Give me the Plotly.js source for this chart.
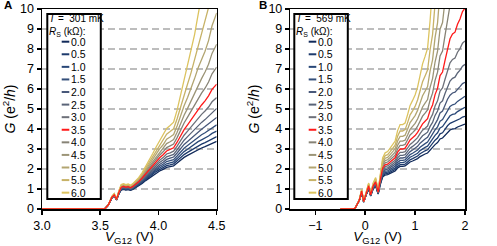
<!DOCTYPE html>
<html><head><meta charset="utf-8">
<script src="https://cdn.plot.ly/plotly-3.0.1.min.js"></script>
<style>html,body{margin:0;padding:0;background:#fff;} #chart{width:497px;height:246px;}</style>
</head><body><div id="chart"></div>
<script>
// ---------------- data ----------------
const rsValues = [0, 0.5, 1, 1.5, 2, 2.5, 3, 3.5, 4, 4.5, 5, 5.5, 6];
const rsLabels = ["0.0","0.5","1.0","1.5","2.0","2.5","3.0","3.5","4.0","4.5","5.0","5.5","6.0"];
const tempLabels = ["301 mK", "569 mK"];
const panelLabels = ["A", "B"];
const xTicksA = [3.0, 3.5, 4.0, 4.5];
const xTicksB = [-1, 0, 1, 2];

// Panel A: gate voltage (V)
const vA = [3.00,3.50,3.54,3.57,3.60,3.62,3.64,3.66,3.68,3.70,3.72,3.74,3.76,3.78,3.80,3.83,3.86,3.89,3.92,3.95,3.98,4.01,4.04,4.07,4.10,4.13,4.16,4.19,4.22,4.25,4.28,4.31,4.34,4.37,4.40,4.43,4.46,4.50];
const gA00 = [0,0,0.02,0.20,0.55,0.65,0.45,0.75,0.95,0.98,0.95,0.97,0.93,0.98,1.05,1.15,1.28,1.42,1.55,1.68,1.80,1.90,1.98,2.08,2.12,2.16,2.30,2.45,2.58,2.68,2.78,2.88,2.98,3.05,3.12,3.20,3.30,3.38];
const gA05 = [0,0,0.02,0.20,0.56,0.66,0.45,0.76,0.97,1.00,0.97,0.99,0.95,1.00,1.07,1.18,1.31,1.46,1.60,1.74,1.87,1.97,2.06,2.17,2.21,2.26,2.41,2.57,2.72,2.83,2.94,3.05,3.16,3.24,3.32,3.41,3.53,3.62];
const gA10 = [0,0,0.02,0.20,0.56,0.67,0.46,0.77,0.99,1.02,0.99,1.01,0.97,1.02,1.10,1.20,1.35,1.50,1.65,1.80,1.94,2.05,2.15,2.26,2.31,2.36,2.52,2.71,2.87,2.99,3.12,3.24,3.37,3.46,3.55,3.65,3.78,3.89];
const gA15 = [0,0,0.02,0.20,0.57,0.68,0.46,0.78,1.01,1.04,1.01,1.03,0.98,1.04,1.12,1.23,1.38,1.55,1.70,1.86,2.01,2.14,2.24,2.37,2.42,2.47,2.65,2.86,3.04,3.18,3.32,3.46,3.60,3.71,3.81,3.93,4.08,4.21];
const gA20 = [0,0,0.02,0.20,0.57,0.69,0.47,0.80,1.03,1.06,1.03,1.05,1.00,1.06,1.14,1.26,1.42,1.60,1.76,1.93,2.09,2.23,2.34,2.48,2.54,2.60,2.80,3.03,3.23,3.38,3.54,3.71,3.88,3.99,4.12,4.26,4.44,4.58];
const gA25 = [0,0,0.02,0.20,0.58,0.69,0.47,0.81,1.05,1.08,1.05,1.07,1.02,1.08,1.17,1.30,1.46,1.65,1.82,2.01,2.18,2.33,2.45,2.61,2.67,2.73,2.96,3.21,3.44,3.62,3.81,4.00,4.19,4.33,4.47,4.64,4.85,5.03];
const gA30 = [0,0,0.02,0.20,0.59,0.70,0.48,0.82,1.07,1.11,1.07,1.09,1.04,1.11,1.20,1.33,1.50,1.70,1.89,2.09,2.28,2.44,2.57,2.75,2.81,2.89,3.14,3.43,3.69,3.89,4.11,4.33,4.56,4.73,4.90,5.10,5.36,5.57];
const gA35 = [0,0,0.02,0.21,0.59,0.71,0.48,0.84,1.09,1.13,1.09,1.12,1.06,1.13,1.22,1.36,1.55,1.76,1.96,2.18,2.38,2.56,2.71,2.90,2.98,3.06,3.34,3.67,3.97,4.21,4.46,4.73,5.00,5.20,5.41,5.66,5.98,6.24];
const gA40 = [0,0,0.02,0.21,0.60,0.72,0.48,0.85,1.11,1.16,1.11,1.14,1.09,1.16,1.25,1.40,1.60,1.82,2.04,2.27,2.50,2.69,2.86,3.07,3.16,3.25,3.57,3.95,4.30,4.59,4.89,5.20,5.54,5.79,6.04,6.35,6.76,7.10];
const gA45 = [0,0,0.02,0.21,0.61,0.73,0.49,0.86,1.14,1.18,1.14,1.17,1.11,1.18,1.29,1.44,1.65,1.89,2.12,2.38,2.63,2.84,3.03,3.27,3.36,3.47,3.84,4.28,4.69,5.03,5.40,5.79,6.21,6.52,6.85,7.24,7.78,8.24];
const gA50 = [0,0,0.02,0.21,0.62,0.74,0.49,0.88,1.16,1.21,1.16,1.19,1.14,1.21,1.32,1.48,1.70,1.96,2.22,2.49,2.77,3.01,3.21,3.49,3.60,3.72,4.15,4.67,5.16,5.58,6.03,6.52,7.05,7.46,7.89,8.42,9.16,9.80];
const gA55 = [0,0,0.02,0.21,0.62,0.76,0.50,0.89,1.19,1.24,1.19,1.22,1.16,1.24,1.35,1.52,1.76,2.04,2.31,2.62,2.92,3.19,3.43,3.74,3.87,4.01,4.51,5.13,5.73,6.25,6.82,7.46,8.17,8.72,9.32,10.07,11.13,12.10];
const gA60 = [0,0,0.02,0.21,0.63,0.77,0.50,0.91,1.22,1.27,1.22,1.25,1.19,1.27,1.39,1.57,1.82,2.12,2.42,2.76,3.10,3.40,3.67,4.03,4.18,4.34,4.94,5.70,6.45,7.11,7.86,8.72,9.71,10.49,11.37,12.51,14.19,15.80];

// Panel B: gate voltage (V)
const vB = [-0.50,-0.25,-0.20,-0.12,-0.07,-0.03,0.02,0.07,0.11,0.16,0.21,0.26,0.30,0.35,0.40,0.45,0.50,0.55,0.60,0.65,0.70,0.75,0.80,0.85,0.90,0.95,1.00,1.05,1.10,1.15,1.20,1.25,1.30,1.35,1.40,1.45,1.50,1.55,1.60,1.65,1.70,1.75,1.80,1.85,1.90,1.95,2.00];
const gB00 = [0,0,0.05,0.40,0.80,0.35,0.70,1.00,0.65,1.00,1.15,0.75,1.20,1.60,1.70,1.72,1.78,1.85,1.90,2.05,2.13,2.13,2.15,2.25,2.35,2.40,2.45,2.52,2.62,2.70,2.75,2.80,2.95,3.05,3.22,3.32,3.50,3.55,3.70,3.85,3.95,4.00,4.02,4.10,4.15,4.22,4.25];
const gB05 = [0,0,0.05,0.40,0.81,0.35,0.71,1.02,0.66,1.02,1.18,0.76,1.23,1.65,1.76,1.78,1.84,1.92,1.97,2.13,2.22,2.22,2.24,2.35,2.46,2.52,2.57,2.65,2.76,2.85,2.91,2.96,3.13,3.24,3.44,3.55,3.76,3.81,3.99,4.16,4.28,4.34,4.36,4.45,4.51,4.60,4.63];
const gB10 = [0,0,0.05,0.41,0.83,0.35,0.72,1.04,0.67,1.04,1.20,0.77,1.26,1.71,1.82,1.84,1.91,1.99,2.05,2.23,2.32,2.32,2.35,2.47,2.59,2.65,2.71,2.79,2.92,3.02,3.08,3.14,3.33,3.46,3.68,3.81,4.05,4.12,4.32,4.53,4.66,4.73,4.76,4.87,4.95,5.05,5.09];
const gB15 = [0,0,0.05,0.41,0.84,0.36,0.73,1.06,0.68,1.06,1.23,0.78,1.29,1.76,1.89,1.91,1.99,2.07,2.14,2.33,2.43,2.43,2.46,2.59,2.72,2.79,2.86,2.95,3.09,3.20,3.27,3.35,3.56,3.71,3.96,4.11,4.39,4.47,4.71,4.96,5.13,5.21,5.25,5.38,5.47,5.59,5.64];
const gB20 = [0,0,0.05,0.41,0.85,0.36,0.74,1.08,0.69,1.08,1.26,0.80,1.32,1.83,1.96,1.99,2.07,2.16,2.23,2.44,2.55,2.55,2.58,2.73,2.87,2.95,3.03,3.13,3.29,3.42,3.50,3.58,3.82,3.99,4.29,4.47,4.80,4.90,5.19,5.49,5.69,5.80,5.84,6.01,6.12,6.27,6.34];
const gB25 = [0,0,0.05,0.42,0.87,0.36,0.75,1.11,0.69,1.11,1.30,0.81,1.36,1.89,2.04,2.06,2.15,2.25,2.33,2.56,2.68,2.68,2.72,2.88,3.04,3.13,3.21,3.33,3.51,3.66,3.75,3.84,4.13,4.33,4.68,4.90,5.30,5.41,5.77,6.14,6.40,6.53,6.59,6.80,6.94,7.14,7.23];
const gB30 = [0,0,0.05,0.42,0.88,0.36,0.76,1.13,0.70,1.13,1.33,0.82,1.40,1.97,2.12,2.15,2.25,2.36,2.44,2.69,2.83,2.83,2.87,3.05,3.23,3.33,3.43,3.57,3.77,3.94,4.04,4.15,4.49,4.73,5.15,5.41,5.90,6.05,6.49,6.97,7.31,7.48,7.55,7.84,8.02,8.29,8.40];
const gB35 = [0,0,0.05,0.42,0.90,0.37,0.77,1.16,0.71,1.16,1.36,0.84,1.43,2.04,2.21,2.24,2.35,2.47,2.56,2.84,3.00,3.00,3.04,3.24,3.45,3.56,3.67,3.83,4.07,4.26,4.39,4.52,4.92,5.20,5.72,6.04,6.67,6.85,7.43,8.06,8.51,8.75,8.84,9.24,9.50,9.87,10.04];
const gB40 = [0,0,0.05,0.43,0.91,0.37,0.78,1.18,0.72,1.18,1.40,0.85,1.47,2.13,2.31,2.35,2.46,2.59,2.69,3.00,3.18,3.18,3.23,3.46,3.70,3.82,3.95,4.14,4.41,4.64,4.79,4.95,5.44,5.79,6.43,6.84,7.65,7.90,8.68,9.55,10.19,10.53,10.67,11.25,11.64,12.2,12.46];
const gB45 = [0,0,0.05,0.43,0.93,0.37,0.80,1.21,0.73,1.21,1.44,0.86,1.52,2.22,2.42,2.46,2.58,2.73,2.84,3.19,3.39,3.39,3.44,3.70,3.98,4.13,4.28,4.50,4.83,5.10,5.29,5.47,6.08,6.52,7.35,7.89,8.99,9.32,10.43,11.72,12.70,13.23,13.4,14.4,15.0,16.0,16.4];
const gB50 = [0,0,0.05,0.43,0.95,0.38,0.81,1.24,0.74,1.24,1.48,0.88,1.56,2.32,2.54,2.58,2.72,2.88,3.01,3.40,3.63,3.63,3.69,3.99,4.32,4.49,4.67,4.93,5.32,5.66,5.89,6.12,6.89,7.46,8.57,9.31,10.88,11.38,13.08,15.17,16.84,17.8,18.2,20.0,21.2,23.2,24.1];
const gB55 = [0,0,0.05,0.44,0.96,0.38,0.82,1.27,0.76,1.27,1.52,0.89,1.61,2.43,2.67,2.72,2.87,3.06,3.19,3.64,3.90,3.90,3.97,4.32,4.71,4.91,5.13,5.45,5.94,6.36,6.65,6.95,7.95,8.72,10.27,11.36,13.79,14.59,17.52,21.48,25.0,27.2,28,32.5,36,40,40];
const gB60 = [0,0,0.05,0.44,0.98,0.38,0.84,1.30,0.77,1.30,1.57,0.91,1.67,2.55,2.81,2.87,3.04,3.25,3.40,3.92,4.22,4.22,4.30,4.72,5.18,5.43,5.70,6.09,6.71,7.26,7.63,8.03,9.40,10.49,12.82,14.57,18.8,20.3,26.5,36.8,40,40,40,40,40,40,40];

const seriesA = [gA00,gA05,gA10,gA15,gA20,gA25,gA30,gA35,gA40,gA45,gA50,gA55,gA60];
const seriesB = [gB00,gB05,gB10,gB15,gB20,gB25,gB30,gB35,gB40,gB45,gB50,gB55,gB60];

// ---------------- style ----------------
const colors = ["#112a5a","#1d3a6c","#284777","#344f7a","#48587a","#5a6478","#6d7079",
                "#ff1a1a","#878376","#9c9577","#b2a571","#c7b267","#dcc35f"];
const FONT = "Liberation Sans, Arial, Helvetica, sans-serif";
const W = 497, H = 246, ML = 42, MR = 32, MT = 9, MB = 37;
const PW = W - ML - MR, PH = H - MT - MB;
const xp = px => (px - ML) / PW;
const yp = py => (H - MB - py) / PH;

const traces = [];
const drawOrder = [0,1,2,3,4,5,6,8,9,10,11,12,7];
function addPanel(vx, series, xa, ya) {
  drawOrder.forEach(i => traces.push({
    x: vx, y: series[i], xaxis: xa, yaxis: ya, type: 'scatter', mode: 'lines',
    line: {color: colors[i], width: 1.3}, showlegend: false, hoverinfo: 'skip'
  }));
}
addPanel(vA, seriesA, 'x', 'y');
addPanel(vB, seriesB, 'x2', 'y2');

const shapes = [], annotations = [];
const LEGFONT = {family:FONT, size:10.5, color:'#000'};
function addLegend(boxLeft, tempLabel) {
  shapes.push({type:'rect', xref:'paper', yref:'paper', x0:xp(boxLeft), x1:xp(boxLeft+53.5),
    y0:yp(199), y1:yp(14), line:{color:'#000', width:2}, fillcolor:'#fff', layer:'above'});
  annotations.push({xref:'paper', yref:'paper', x:xp(boxLeft+0.5), y:yp(26), xanchor:'left', yanchor:'middle',
    align:'left', showarrow:false, borderpad:0,
    text:'<i>T</i> =\u00a0\u00a0' + tempLabel + '<br><i>R</i><sub>S</sub> (kΩ):', font:{family:FONT, size:10, color:'#000'}});
  rsLabels.forEach((lab, i) => {
    const py = 41.7 + 12.58 * i;
    shapes.push({type:'line', xref:'paper', yref:'paper', x0:xp(boxLeft+14.4), x1:xp(boxLeft+22),
      y0:yp(py), y1:yp(py), line:{color:colors[i], width:2}, layer:'above'});
    annotations.push({xref:'paper', yref:'paper', x:xp(boxLeft+23), y:yp(py), xanchor:'left', yanchor:'middle',
      showarrow:false, borderpad:0, text:lab, font:LEGFONT});
  });
}
addLegend(47.3, tempLabels[0]);
addLegend(294.3, tempLabels[1]);

annotations.push({xref:'paper', yref:'paper', x:xp(2), y:yp(5), xanchor:'left', yanchor:'middle', showarrow:false,
  text:'<b>' + panelLabels[0] + '</b>', font:{family:FONT, size:11.5, color:'#000'}});
annotations.push({xref:'paper', yref:'paper', x:xp(257), y:yp(5), xanchor:'left', yanchor:'middle', showarrow:false,
  text:'<b>' + panelLabels[1] + '</b>', font:{family:FONT, size:11.5, color:'#000'}});

const xTitle = {text:'<i>V</i><sub>G12</sub> (V)', font:{family:FONT, size:13.5, color:'#000'}, standoff:3};
const yTitle = {text:'<i>G</i> (e<sup>2</sup>/<i>h</i>)', font:{family:FONT, size:14, color:'#000'}, standoff:5};
const commonX = {showline:true, mirror:true, linecolor:'#000', linewidth:1.5, ticks:'outside', ticklen:4,
  tickwidth:1.5, tickcolor:'#000', showgrid:false, zeroline:false, tickfont:{family:FONT, size:12.5, color:'#000'}};
const commonY = {range:[0,10], tickvals:[0,1,2,3,4,5,6,7,8,9,10], showline:true, mirror:true, linecolor:'#000',
  linewidth:1.5, ticks:'outside', ticklen:4, tickwidth:1.5, tickcolor:'#000', showgrid:true, gridcolor:'#bdbdbd',
  gridwidth:1.7, griddash:'7px,4px', zeroline:false, tickfont:{family:FONT, size:12.5, color:'#000'}, title:yTitle};

const layout = {
  width:W, height:H, margin:{l:ML, r:MR, t:MT, b:MB}, paper_bgcolor:'#fff', plot_bgcolor:'#fff',
  font:{family:FONT, color:'#000'}, showlegend:false,
  xaxis: Object.assign({}, commonX, {domain:[0, xp(216.7)], range:[3, 4.5], tickvals:xTicksA,
    ticktext:xTicksA.map(v => v.toFixed(1)), title:xTitle, anchor:'y'}),
  yaxis: Object.assign({}, commonY, {anchor:'x'}),
  xaxis2: Object.assign({}, commonX, {domain:[xp(290.3), 1], range:[-1.5, 2], tickvals:xTicksB,
    ticktext:xTicksB.map(v => v < 0 ? '\u2212' + Math.abs(v) : String(v)), title:xTitle, anchor:'y2'}),
  yaxis2: Object.assign({}, commonY, {anchor:'x2'}),
  shapes: shapes, annotations: annotations
};
Plotly.newPlot('chart', traces, layout, {staticPlot:true, displayModeBar:false});
</script>
</body></html>
